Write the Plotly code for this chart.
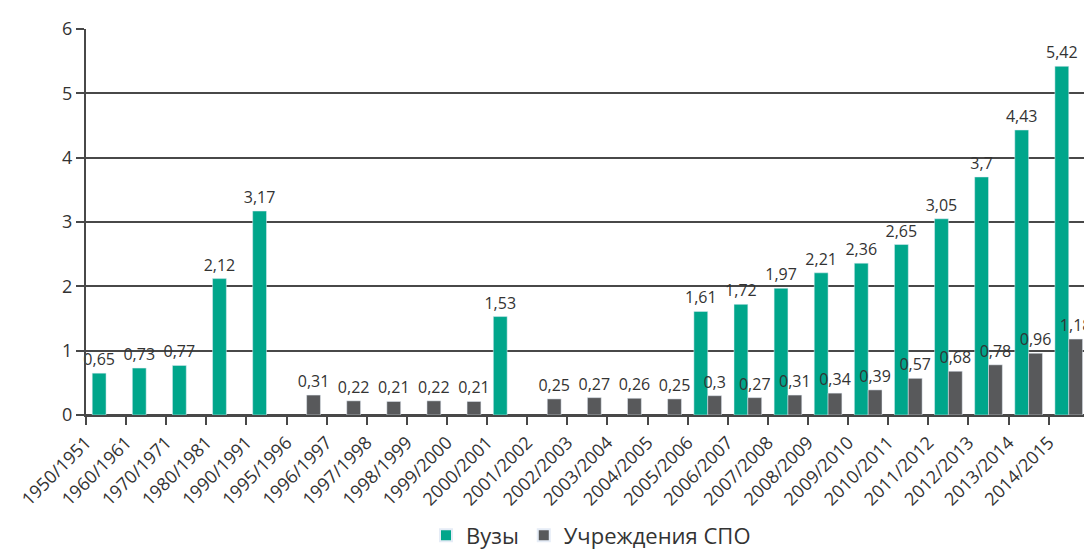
import plotly.graph_objects as go

categories = ["1950/1951", "1960/1961", "1970/1971", "1980/1981", "1990/1991",
              "1995/1996", "1996/1997", "1997/1998", "1998/1999", "1999/2000",
              "2000/2001", "2001/2002", "2002/2003", "2003/2004", "2004/2005",
              "2005/2006", "2006/2007", "2007/2008", "2008/2009", "2009/2010",
              "2010/2011", "2011/2012", "2012/2013", "2013/2014", "2014/2015"]

vuzy = [0.65, 0.73, 0.77, 2.12, 3.17,
        None, None, None, None, None,
        1.53, None, None, None, None,
        1.61, 1.72, 1.97, 2.21, 2.36,
        2.65, 3.05, 3.7, 4.43, 5.42]

spo = [None, None, None, None, None,
       0.31, 0.22, 0.21, 0.22, 0.21,
       None, 0.25, 0.27, 0.26, 0.25,
       0.3, 0.27, 0.31, 0.34, 0.39,
       0.57, 0.68, 0.78, 0.96, 1.18]

y_ticks = [0, 1, 2, 3, 4, 5, 6]

GREEN = "#00A68B"
DARK = "#58595B"
TEXT = "#333333"
GRID = "#484848"
FONT = "Open Sans"


def fmt(v):
    return "" if v is None else f"{v:g}".replace(".", ",")


# bars sit in the middle of each category; ticks mark category boundaries
idx = list(range(len(categories)))
x_centers = [i + 0.5 for i in idx]

fig = go.Figure()
fig.add_trace(go.Bar(
    x=x_centers, y=vuzy, name="Вузы", marker_color=GREEN,
    text=[fmt(v) for v in vuzy], textposition="outside",
    textfont=dict(size=16, color=TEXT, family=FONT),
    cliponaxis=False, constraintext="none",
))
fig.add_trace(go.Bar(
    x=x_centers, y=spo, name="Учреждения СПО", marker_color=DARK,
    text=[fmt(v) for v in spo], textposition="outside",
    textfont=dict(size=16, color=TEXT, family=FONT),
    cliponaxis=False, constraintext="none",
))

fig.update_layout(
    width=1092, height=556,
    margin=dict(l=73, r=8, t=17, b=145),
    barmode="group", bargap=0.31, bargroupgap=0,
    plot_bgcolor="white", paper_bgcolor="white",
    font=dict(family=FONT, color=TEXT, size=16),
    showlegend=True,
    legend=dict(orientation="h", x=0.502, xanchor="center", y=-0.312, yanchor="middle",
                font=dict(size=22, color=TEXT, family=FONT), itemsizing="constant"),
    xaxis=dict(
        range=[0, len(categories) + 0.08],
        tickmode="array", tickvals=idx, ticktext=categories,
        tickangle=-45, ticks="outside", ticklen=8, tickwidth=2, tickcolor=GRID,
        showgrid=False, showline=True, linecolor=GRID, linewidth=2,
        zeroline=False, tickfont=dict(size=18, color=TEXT, family=FONT),
    ),
    yaxis=dict(
        range=[0, 6], tickvals=y_ticks,
        ticks="outside", ticklen=8, tickwidth=2, tickcolor=GRID,
        showgrid=True, gridcolor=GRID, gridwidth=2,
        showline=True, linecolor=GRID, linewidth=2,
        zeroline=True, zerolinecolor=GRID, zerolinewidth=2,
        tickfont=dict(size=18, color=TEXT, family=FONT),
    ),
)

fig.write_html("out.html")
